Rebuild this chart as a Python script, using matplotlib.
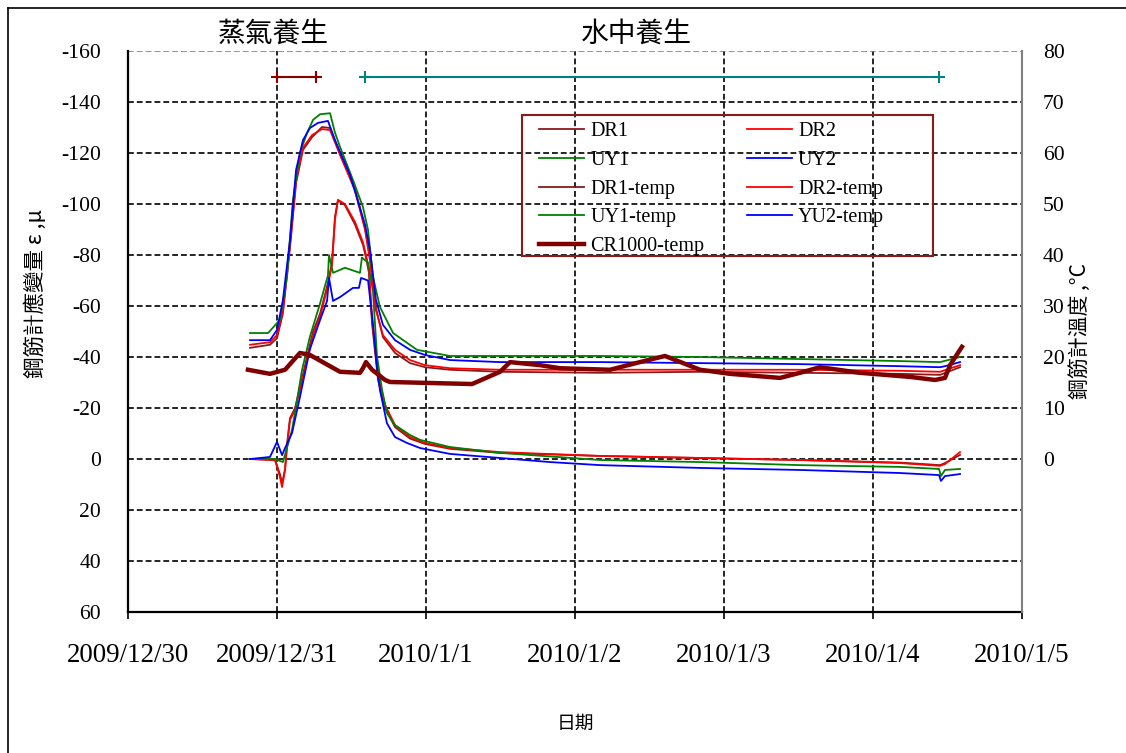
import matplotlib
matplotlib.use("Agg")
import matplotlib.pyplot as plt
from matplotlib.lines import Line2D
from matplotlib.patches import Rectangle

SERIF = ["Liberation Serif", "DejaVu Serif"]
CJK = ["Noto Sans CJK TC", "DejaVu Sans"]

# ---- time axis: days elapsed since 2009/12/30 00:00 ----
day_ticks = [0, 1, 2, 3, 4, 5, 6]
date_labels = ["2009/12/30", "2009/12/31", "2010/1/1", "2010/1/2",
               "2010/1/3", "2010/1/4", "2010/1/5"]

# ---- rebar strain gauges (left axis) ----
t_dr = [0.819, 0.987, 1.020, 1.034, 1.054, 1.067, 1.087, 1.121, 1.154, 1.201,
        1.242, 1.289, 1.342, 1.369, 1.389, 1.409, 1.456, 1.523, 1.577, 1.597,
        1.617, 1.638, 1.678, 1.725, 1.792, 1.893, 1.993, 2.161, 2.497, 3.168,
        3.839, 4.510, 5.181, 5.450, 5.483, 5.584]
dr1 = [0, 0.4, 6, 9.5, 4, -5.5, -16, -20, -28, -40,
       -50, -57, -69, -77, -95, -101.5, -99.5, -92, -84, -79,
       -73, -53, -31, -20, -12.5, -8, -5.9, -4, -2.4, -1.2,
       -0.4, 0.4, 1.4, 2.4, 1.6, -1.6]
dr2 = [0, 0.4, 7.1, 11, 4.3, -4.7, -15.3, -19.2, -27.1, -38.8,
       -48.6, -55.7, -68.2, -76.1, -93.7, -101.6, -100, -93, -85, -80,
       -74.5, -54.9, -32.9, -21.2, -13.3, -8.6, -6.3, -4.3, -2.7, -1.2,
       -0.4, 0.4, 1.6, 2.7, 2.0, -2.7]

t_uy1 = [0.819, 0.987, 1.040, 1.101, 1.168, 1.221, 1.289, 1.342, 1.349, 1.376,
         1.456, 1.557, 1.570, 1.611, 1.644, 1.671, 1.705, 1.738, 1.792, 1.893,
         1.960, 2.161, 2.497, 3.168, 3.839, 4.510, 5.181, 5.443, 5.456, 5.483,
         5.584]
uy1 = [0, 0, 1.2, -11.4, -34.9, -48, -61, -72, -80, -73,
       -75, -73, -79, -77, -66, -40.4, -27.1, -18, -13.3, -9.4,
       -7.5, -4.7, -2.4, 0.4, 1.2, 2.4, 3.1, 3.9, 6.7, 4.3,
       3.9]

t_uy2 = [0.819, 0.953, 1.000, 1.034, 1.054, 1.101, 1.154, 1.221, 1.289, 1.336,
         1.349, 1.376, 1.423, 1.510, 1.550, 1.564, 1.611, 1.644, 1.671, 1.691,
         1.738, 1.792, 1.872, 1.960, 2.161, 2.497, 2.832, 3.168, 3.839, 4.510,
         5.181, 5.443, 5.456, 5.483, 5.584]
uy2 = [0, -0.8, -6.7, -1.5, -4.3, -10.2, -24.3, -43.1, -54.5, -62,
       -71, -62, -63.5, -67.1, -67.1, -71, -70, -53, -36, -27,
       -14, -8.6, -6.3, -4.3, -2.0, -0.4, 1.2, 2.4, 3.5, 4.3,
       5.5, 6.3, 8.6, 6.7, 5.9]

# ---- gauge temperatures (right axis, °C) ----
t_g1 = [0.819, 0.940, 1.020, 1.067, 1.107, 1.154, 1.201, 1.242, 1.289, 1.356,
        1.389, 1.423, 1.510, 1.577, 1.611, 1.644, 1.691, 1.779, 1.940, 2.161,
        2.497, 3.168, 3.839, 4.510, 5.181, 5.450, 5.584]
uy1_temp = [24.7, 24.7, 27.3, 35.7, 50.8, 60.0, 63.9, 66.5, 67.6, 67.8,
            64.0, 61.2, 54.7, 49.4, 44.9, 35.7, 29.8, 24.7, 21.4, 20.2,
            20.2, 20.2, 20.0, 19.6, 19.2, 19.0, 20.0]

t_g2 = [0.819, 0.953, 1.000, 1.040, 1.087, 1.128, 1.174, 1.221, 1.275, 1.342,
        1.389, 1.490, 1.591, 1.624, 1.664, 1.711, 1.792, 1.893, 1.993, 2.161,
        2.497, 3.168, 3.839, 4.510, 5.181, 5.450, 5.483, 5.584]
yu2_temp = [23.3, 23.3, 25.3, 31.2, 42.9, 56.7, 62.5, 64.9, 65.9, 66.3,
            62.5, 55.7, 45.9, 41.0, 31.2, 26.3, 23.3, 21.4, 20.4, 19.4,
            19.0, 19.0, 18.8, 18.6, 18.2, 18.0, 18.2, 19.0]

t_g3 = [0.819, 0.953, 1.000, 1.040, 1.087, 1.128, 1.174, 1.235, 1.302, 1.356,
        1.423, 1.523, 1.591, 1.624, 1.664, 1.711, 1.792, 1.893, 1.993, 2.161,
        2.497, 3.168, 3.839, 4.510, 5.181, 5.450, 5.584]
dr2_temp = [22.4, 22.9, 24.3, 29.2, 42.0, 54.7, 61.0, 63.5, 64.7, 64.5,
            59.6, 52.7, 44.9, 39.0, 29.2, 24.3, 21.4, 19.4, 18.4, 17.8,
            17.5, 17.5, 17.5, 17.5, 17.3, 17.1, 18.4]
dr1_temp = [21.8, 22.4, 23.7, 28.6, 41.4, 54.1, 60.6, 63.1, 65.1, 64.9,
            60.0, 53.1, 45.3, 39.4, 29.6, 23.9, 20.8, 18.8, 18.0, 17.5,
            17.1, 16.9, 17.1, 16.9, 16.7, 16.5, 18.0]

# ---- datalogger temperature ----
t_cr = [0.805, 0.953, 1.054, 1.154, 1.221, 1.423, 1.557, 1.577, 1.597, 1.638,
        1.725, 1.758, 2.309, 2.497, 2.564, 2.765, 2.899, 3.235, 3.436, 3.604,
        3.839, 4.040, 4.376, 4.510, 4.644, 4.913, 5.248, 5.416, 5.483, 5.517,
        5.597]
cr1000_temp = [17.5, 16.7, 17.5, 20.8, 20.4, 17.1, 16.9, 17.8, 19.0, 17.5,
               15.5, 15.1, 14.7, 17.1, 19.0, 18.4, 17.8, 17.5, 19.0, 20.2,
               17.5, 16.7, 15.9, 16.9, 18.0, 16.9, 16.1, 15.5, 15.9, 18.4,
               22.0]

# ---- curing stages ----
steam_period = [1.000, 1.262]
water_period = [1.591, 5.443]
stage_level = -150

strain_ticks = list(range(-160, 61, 20))
temp_ticks = list(range(0, 81, 10))

C_DR1 = "#8B1A1A"
C_DR2 = "#FF0000"
C_UY1 = "#008000"
C_UY2 = "#0000FF"
C_CR = "#800000"

W, H = 1126, 753
fig = plt.figure(figsize=(W / 100, H / 100), dpi=100)
ax = fig.add_axes([128 / W, 1 - 612 / H, 894 / W, 561 / H])
ax2 = ax.twinx()

lw = 1.3
h_dr1, = ax.plot(t_dr, dr1, color=C_DR1, lw=lw, label="DR1")
h_dr2, = ax.plot(t_dr, dr2, color=C_DR2, lw=lw, label="DR2")
h_uy1, = ax.plot(t_uy1, uy1, color=C_UY1, lw=lw, label="UY1")
h_uy2, = ax.plot(t_uy2, uy2, color=C_UY2, lw=lw, label="UY2")

ax.plot(steam_period, [stage_level] * 2, color="#8B0000", lw=1.5,
        marker="+", ms=9, mew=1.5)
ax.plot(water_period, [stage_level] * 2, color="#008080", lw=1.5,
        marker="+", ms=9, mew=1.5)

h_t1, = ax2.plot(t_g3, dr1_temp, color=C_DR1, lw=lw, label="DR1-temp")
h_t2, = ax2.plot(t_g3, dr2_temp, color=C_DR2, lw=lw, label="DR2-temp")
h_t3, = ax2.plot(t_g1, uy1_temp, color=C_UY1, lw=lw, label="UY1-temp")
h_t4, = ax2.plot(t_g2, yu2_temp, color=C_UY2, lw=lw, label="YU2-temp")
h_cr, = ax2.plot(t_cr, cr1000_temp, color=C_CR, lw=3.2, label="CR1000-temp")

# ranges and ticks
ax.set_xlim(day_ticks[0], day_ticks[-1])
ax.set_ylim(strain_ticks[-1], strain_ticks[0])
ax2.set_ylim(-30, 80)

ax.set_xticks(day_ticks)
ax.set_xticklabels(date_labels, fontfamily=SERIF, fontsize=19.4)
ax.tick_params(axis="x", direction="out", length=5, width=1.2, pad=17,
               color="black")

ax.set_yticks(strain_ticks)
ax.set_yticklabels([str(v) for v in strain_ticks], fontfamily=SERIF,
                   fontsize=15.6)
ax.tick_params(axis="y", length=0, pad=19.5)

ax2.set_yticks(temp_ticks)
ax2.set_yticklabels([str(v) for v in temp_ticks], fontfamily=SERIF,
                    fontsize=15.6)
ax2.tick_params(axis="y", length=0, pad=15)

# dashed grid
dash = (0, (3.5, 1.8))
ax.grid(True, color="black", linestyle=dash, linewidth=1.2)
ax.set_axisbelow(True)
ax.get_ygridlines()[0].set_color("#808080")

# frame
for s in ("top", "right"):
    ax.spines[s].set_visible(False)
for s in ("top", "left", "bottom"):
    ax2.spines[s].set_visible(False)
ax.spines["left"].set_linewidth(1.6)
ax.spines["bottom"].set_linewidth(1.6)
ax2.spines["right"].set_color("#808080")
ax2.spines["right"].set_linewidth(1.5)

# legend (row-major order in two columns)
handles = [h_dr1, h_uy1, h_t1, h_t3, h_cr, h_dr2, h_uy2, h_t2, h_t4]
x_to_ax = lambda px: (px - 128) / 894
y_to_ax = lambda py: (612 - py) / 561
leg = ax2.legend(handles=handles, ncol=2, frameon=False,
                 loc="upper left",
                 bbox_to_anchor=(x_to_ax(539), y_to_ax(122)),
                 borderaxespad=0, borderpad=0,
                 prop={"family": SERIF, "size": 14.5},
                 handlelength=2.25, handletextpad=0.3,
                 columnspacing=2.1, labelspacing=0.48)
ax2.add_patch(Rectangle((x_to_ax(522), y_to_ax(256)),
                        x_to_ax(933) - x_to_ax(522),
                        y_to_ax(115) - y_to_ax(256),
                        transform=ax2.transAxes, fill=False,
                        edgecolor="#8B1A1A", linewidth=1.5, zorder=5))

# labels and stage captions
fig.text(273 / W, 1 - 34 / H, "蒸氣養生", family=CJK, fontsize=20,
         ha="center", va="center")
fig.text(636 / W, 1 - 34 / H, "水中養生", family=CJK, fontsize=20,
         ha="center", va="center")
fig.text(36 / W, 1 - 294 / H, "鋼筋計應變量 ε ,μ", family=CJK, fontsize=15.5,
         rotation=90, ha="center", va="center")
fig.text(1080 / W, 1 - 331 / H, "鋼筋計溫度 ,°C", family=CJK, fontsize=15,
         rotation=90, ha="center", va="center")
fig.text(575 / W, 1 - 723 / H, "日期", family=CJK, fontsize=13.5,
         ha="center", va="center")

# outer border of the chart area
fig.add_artist(Line2D([8 / W, 8 / W], [0, 1 - 8 / H], color="black", lw=1.2,
                      transform=fig.transFigure))
fig.add_artist(Line2D([8 / W, 1], [1 - 8 / H, 1 - 8 / H], color="black",
                      lw=1.2, transform=fig.transFigure))

fig.savefig("out.png", dpi=100)
